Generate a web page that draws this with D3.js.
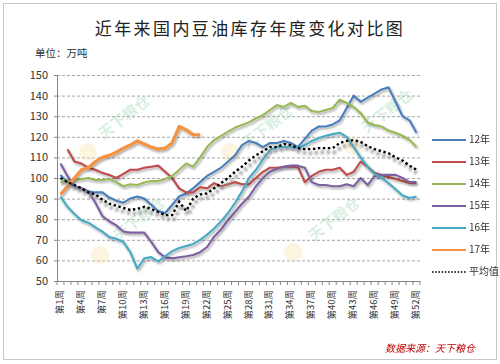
<!DOCTYPE html>
<html><head><meta charset="utf-8">
<script src="https://cdn.jsdelivr.net/npm/d3@7/dist/d3.min.js"></script>
<style>
body{margin:0;background:#fff}
svg text{font-family:"Noto Sans CJK SC","Noto Sans",sans-serif}
</style>
</head><body>
<svg id="c" width="500" height="364"></svg>
<script>
const weeks=[1,2,3,4,5,6,7,8,9,10,11,12,13,14,15,16,17,18,19,20,21,22,23,24,25,26,27,28,29,30,31,32,33,34,35,36,37,38,39,40,41,42,43,44,45,46,47,48,49,50,51,52];
const tickWeeks=[1,4,7,10,13,16,19,22,25,28,31,34,37,40,43,46,49,52];
const tickLabels=["第1周","第4周","第7周","第10周","第13周","第16周","第19周","第22周","第25周","第28周","第31周","第34周","第37周","第40周","第43周","第46周","第49周","第52周"];
const yTicks=[50,60,70,80,90,100,110,120,130,140,150];
const seriesNames=["12年","13年","14年","15年","16年","17年"];
const avgName="平均值";
const s12=[101.5,98,96,95,93.5,93,93,90.5,89,88,90,91,90,87,84,83,87,91,92.5,95,98,101,103,105,108,111,116,118,117,115,117,117,118,117,115,119,123,125,125,126,128,134,140,137,139,141,143,144,137,130,128,122];
const s13=[null,114,108,107,105,104,102.5,101.5,100,102,104,104,105,105.5,106,103,100,95,93,93,95.5,95,97.5,96,97,98,97,97,100,103,105,105,105.5,105.5,105.5,98,101,103,104,104,105,101.5,103,108,105.5,102.5,101.5,100.5,99.5,98.5,97.6,97.6];
const s14=[98,99,99,99.5,100,99,99,99.5,98,96,97,96.6,97.8,98.5,98.5,99.5,101,104,107,105.5,110,115,118.4,120.5,122.5,124.5,125.7,127,129,130.5,133,135.4,134.5,136.4,134.5,135,132.5,132,133,134,138,136.4,134.5,131.5,127,125.7,125,123,122,120.5,118.5,115];
const s15=[107,101,96,95,93.5,88,81.5,79,77,74,73.5,73.5,73.5,69,64,61.5,61,61.5,62,62.6,64,66.5,71.5,75,79.5,83.5,87.5,91,96,100,103,104.5,105.5,106,106,105,98,96.6,96.6,96,96,97,96,100,96.6,101,101.5,101.5,101.5,100,98,98];
const s16=[91,86,82.5,79.5,78.3,76,74,71.3,70.5,69,64,56,61,61.6,59.5,62,64.5,66,67,68,70,72.5,75.5,79,83,88,93.5,100,104,109,113.6,115,115,115,114.5,116,118,119.4,120.5,121.3,122,120,115,110,105.5,102,100,97.5,94.5,91.5,90.3,91];
const s17=[92,96,100,104,105,108,110,111,112.5,114.5,116,118,116.5,115,114,114.5,117,125,123.5,121,121];
const avg=[100,98,96.6,95,93,92,89.5,87.5,86.5,85.5,84.5,85,86,85,83.5,82,82,88.5,84,90,92,92.5,95,97.5,100,103,105.5,108.5,111,113,115,115,116.5,116,114.5,114,114,114.5,114.5,114.5,117,118,118.4,117.5,115.5,114,113,112,110,108.5,106,104];
const seriesData=[s12,s13,s14,s15,s16,s17];
const colors=["#4A7EBB","#BE4B48","#98B954","#7D60A0","#46AAC5","#F69240"];

const svg=d3.select("#c");
const L=57,R=420,T=75,B=281;
const x=d3.scaleBand().domain(weeks).range([L,R]);
const cx=w=>x(w)+x.bandwidth()/2;
const y=d3.scaleLinear().domain([50,150]).range([B,T]);

const defs=svg.append("defs");
const f=defs.append("filter").attr("id","sh").attr("x","-10%").attr("y","-10%").attr("width","130%").attr("height","130%");
f.append("feDropShadow").attr("dx",1.2).attr("dy",1.8).attr("stdDeviation",1).attr("flood-color","#000").attr("flood-opacity",0.35);
const fb=defs.append("filter").attr("id","bl");
fb.append("feGaussianBlur").attr("stdDeviation",1.2);
const rg=defs.append("radialGradient").attr("id","wmc");
rg.append("stop").attr("offset","0%").attr("stop-color","#fbe7b0");
rg.append("stop").attr("offset","70%").attr("stop-color","#f6dda0");
rg.append("stop").attr("offset","100%").attr("stop-color","#fff").attr("stop-opacity",0);

svg.append("rect").attr("x",3.5).attr("y",3.5).attr("width",493).attr("height",356).attr("fill","#fff").attr("stroke","#c8c8c8");

// title
svg.append("text").attr("x",250).attr("y",35).attr("text-anchor","middle").attr("font-size",17).attr("letter-spacing",2.4).attr("fill","#222").text("近年来国内豆油库存年度变化对比图");
svg.append("text").attr("x",35).attr("y",57).attr("font-size",10.5).attr("fill","#333").text("单位：万吨");

// gridlines
svg.append("g").selectAll("line").data(yTicks.filter(d=>d>50)).join("line")
 .attr("x1",L).attr("x2",R).attr("y1",d=>y(d)+0.5).attr("y2",d=>y(d)+0.5)
 .attr("stroke","#a6a6a6").attr("stroke-dasharray","3,2");

// watermarks
const wm=[[125,118,88,152],[140,220,100,255],[268,128,230,152],[388,112,353,146],[335,220,293,252]];
const wg=svg.append("g").attr("opacity",0.35);
wm.forEach(p=>{
 wg.append("circle").attr("cx",p[2]).attr("cy",p[3]).attr("r",11).attr("fill","url(#wmc)");
 wg.append("text").attr("transform",`translate(${p[0]},${p[1]}) rotate(-38)`).attr("text-anchor","middle").attr("dominant-baseline","middle").attr("font-size",15).attr("font-weight","bold").attr("fill","#8fd0a8").text("天下粮仓");
});

// y axis
const ya=svg.append("g").attr("transform",`translate(${L},0)`).call(d3.axisLeft(y).tickValues(yTicks).tickSize(3).tickPadding(6));
ya.select(".domain").attr("stroke","#868686");
ya.selectAll(".tick line").attr("stroke","#868686");
ya.selectAll("text").attr("font-size",11).attr("fill","#333").attr("font-family","'Noto Sans','DejaVu Sans',sans-serif");

// x axis
const xg=svg.append("g");
xg.append("line").attr("x1",L).attr("x2",R).attr("y1",B+0.5).attr("y2",B+0.5).attr("stroke","#868686");
xg.selectAll("line.t").data(weeks.concat([53])).join("line").attr("class","t")
 .attr("x1",d=>d<=52?x(d):R).attr("x2",d=>d<=52?x(d):R).attr("y1",B).attr("y2",B+4).attr("stroke","#868686");
xg.selectAll("text").data(tickWeeks).join("text")
 .attr("transform",(d)=>`translate(${cx(d)},${B+9}) rotate(-90)`)
 .attr("text-anchor","end").attr("dominant-baseline","middle").attr("font-size",9.5).attr("fill","#333")
 .text((d,i)=>tickLabels[i]);

// lines
const line=d3.line().defined(d=>d[1]!=null).x(d=>cx(d[0])).y(d=>y(d[1]));
seriesData.forEach((s,i)=>{
 const pts=s.map((v,j)=>[weeks[j],v]);
 svg.append("path").datum(pts).attr("d",line).attr("fill","none")
  .attr("stroke",colors[i]).attr("stroke-width",i===5?3.2:2.1).attr("stroke-linejoin","round")
  .attr("filter","url(#sh)");
});
const apts=avg.map((v,j)=>[weeks[j],v]);
svg.append("path").datum(apts).attr("d",line).attr("fill","none").attr("stroke","#8c8c8c")
 .attr("stroke-width",4).attr("stroke-dasharray","3,3").attr("transform","translate(2,4)").attr("filter","url(#bl)").attr("opacity",0.8);
svg.append("path").datum(apts).attr("d",line).attr("fill","none").attr("stroke","#000")
 .attr("stroke-width",2.4).attr("stroke-dasharray","2.4,2.6");

// legend
const names=seriesNames.concat([avgName]);
const lg=svg.append("g");
names.forEach((n,i)=>{
 const yy=140+i*22;
 const ln=lg.append("line").attr("x1",432).attr("x2",466).attr("y1",yy).attr("y2",yy)
  .attr("stroke",i<6?colors[i]:"#000").attr("stroke-width",i<6?2:1.6);
 if(i===6) ln.attr("stroke-dasharray","1.6,1.6");
 lg.append("text").attr("x",469).attr("y",yy).attr("dominant-baseline","middle").attr("font-size",10).attr("fill","#333").text(n);
});

// source
svg.append("text").attr("x",475).attr("y",352).attr("text-anchor","end").attr("font-size",10).attr("font-style","italic").attr("fill","#c00000").text("数据来源：天下粮仓");
</script>
</body></html>
